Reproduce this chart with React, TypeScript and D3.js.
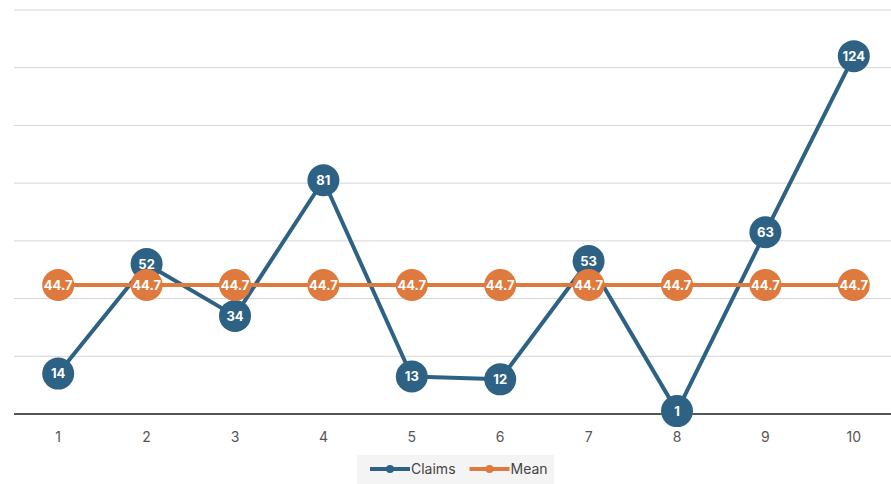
import React, { useEffect, useRef } from 'react';
import * as d3 from 'd3';

const categories = ['1', '2', '3', '4', '5', '6', '7', '8', '9', '10'];
const claims = [14, 52, 34, 81, 13, 12, 53, 1, 63, 124];
const mean = [44.7, 44.7, 44.7, 44.7, 44.7, 44.7, 44.7, 44.7, 44.7, 44.7];
const yTicks = [0, 20, 40, 60, 80, 100, 120, 140];

const series = [
	{ name: 'Claims', values: claims, color: '#2E6284', fmt: (v: number) => String(v) },
	{ name: 'Mean', values: mean, color: '#DE7A3E', fmt: (v: number) => v.toFixed(1) }
];

export default function App() {
	const ref = useRef<SVGSVGElement>(null);

	useEffect(() => {
		const width = 891;
		const height = 484;
		const margin = { top: 10, right: -7, bottom: 70, left: 14 };

		const svg = d3.select(ref.current);
		svg.selectAll('*').remove();

		const x = d3.scaleBand().domain(categories).range([margin.left, width - margin.right]);
		const y = d3.scaleLinear().domain([0, 140]).range([height - margin.bottom, margin.top]);

		// gridlines
		svg
			.append('g')
			.selectAll('line')
			.data(yTicks.slice(1))
			.enter()
			.append('line')
			.attr('x1', margin.left)
			.attr('x2', width - margin.right)
			.attr('y1', (d) => y(d))
			.attr('y2', (d) => y(d))
			.attr('stroke', '#d4d4d4')
			.attr('stroke-width', 1);

		// baseline
		svg
			.append('line')
			.attr('x1', margin.left)
			.attr('x2', width - margin.right)
			.attr('y1', y(0))
			.attr('y2', y(0))
			.attr('stroke', '#555')
			.attr('stroke-width', 2);

		// x labels
		svg
			.append('g')
			.selectAll('text')
			.data(categories)
			.enter()
			.append('text')
			.attr('x', (d) => (x(d) as number) + x.bandwidth() / 2)
			.attr('y', y(0) + 28)
			.attr('text-anchor', 'middle')
			.attr('font-size', 14)
			.attr('fill', '#555')
			.text((d) => d);

		const cx = (i: number) => (x(categories[i]) as number) + x.bandwidth() / 2;

		series.forEach((s) => {
			const line = d3
				.line<number>()
				.x((_, i) => cx(i))
				.y((d) => y(d));
			const g = svg.append('g');
			g
				.append('path')
				.datum(s.values)
				.attr('d', line)
				.attr('fill', 'none')
				.attr('stroke', s.color)
				.attr('stroke-width', 4)
				.attr('stroke-linejoin', 'round');
			const pts = g.selectAll('g.pt').data(s.values).enter().append('g');
			pts
				.append('circle')
				.attr('cx', (_, i) => cx(i))
				.attr('cy', (d) => y(d))
				.attr('r', 16)
				.attr('fill', s.color);
			pts
				.append('text')
				.attr('x', (_, i) => cx(i))
				.attr('y', (d) => y(d))
				.attr('dy', '0.36em')
				.attr('text-anchor', 'middle')
				.attr('font-size', 13)
				.attr('font-weight', 'bold')
				.attr('fill', '#fff')
				.text((d) => s.fmt(d));
		});

		// legend
		const lg = svg.append('g');
		lg.append('rect').attr('x', 357).attr('y', 455).attr('width', 197).attr('height', 29).attr('fill', '#f4f4f4');
		let lx = 370;
		series.forEach((s) => {
			lg.append('line').attr('x1', lx).attr('x2', lx + 40).attr('y1', 469).attr('y2', 469).attr('stroke', s.color).attr('stroke-width', 4);
			lg.append('circle').attr('cx', lx + 20).attr('cy', 469).attr('r', 4).attr('fill', s.color);
			const t = lg
				.append('text')
				.attr('x', lx + 41)
				.attr('y', 469)
				.attr('dy', '0.35em')
				.attr('font-size', 14)
				.attr('fill', '#444')
				.text(s.name);
			lx += 41 + (t.node() as SVGTextElement).getComputedTextLength() + 14;
		});
	}, []);

	return (
		<svg
			ref={ref}
			width={891}
			height={484}
			style={{ display: 'block', position: 'absolute', left: 0, top: 0, fontFamily: 'Inter, "Open Sans", sans-serif', background: '#fff' }}
		/>
	);
}
